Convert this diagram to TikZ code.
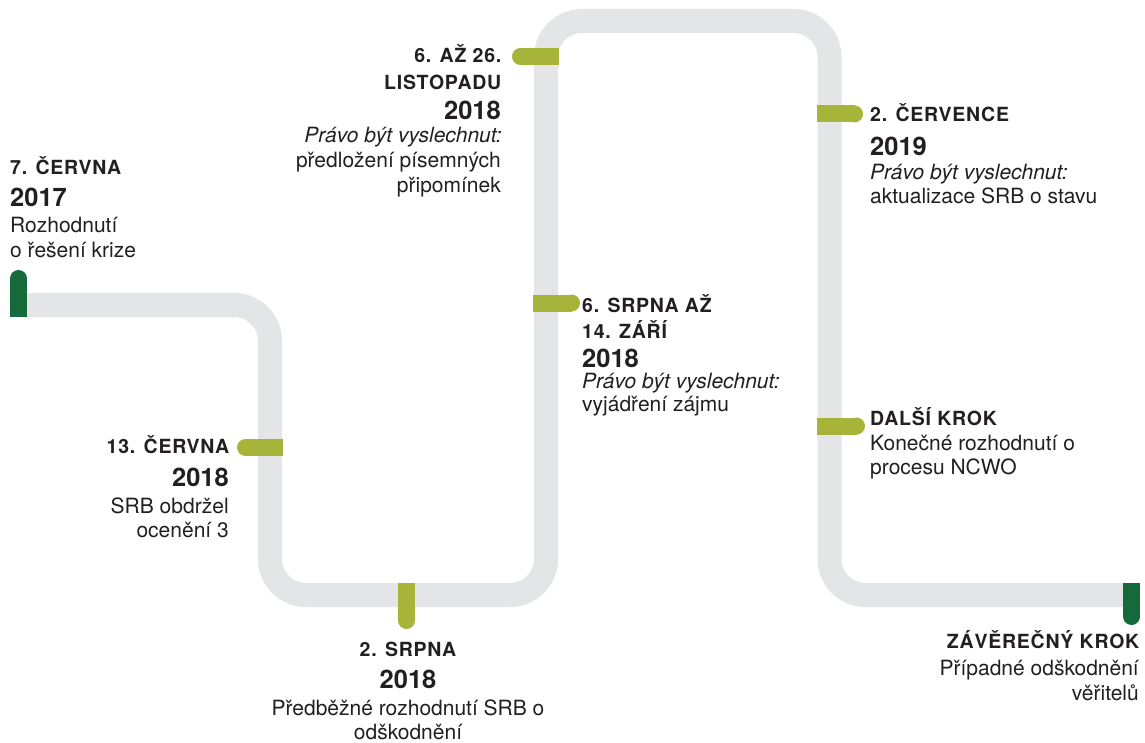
\documentclass[tikz,border=0pt]{standalone}
\usepackage{fontspec}
\setmainfont{TeX Gyre Heros}
\newfontfamily\hfont[LetterSpace=4]{TeX Gyre Heros}
\definecolor{pathgray}{HTML}{E4E5E6}
\definecolor{olivec}{HTML}{A6B43A}
\definecolor{darkg}{HTML}{15693A}
\definecolor{txt}{HTML}{231F20}
\tikzset{
  hd/.style={font=\hfont\bfseries\fontsize{19.5}{22}\selectfont, inner sep=0pt, text=txt},
  yr/.style={font=\bfseries\fontsize{25.5}{28}\selectfont, inner sep=0pt, text=txt},
  bd/.style={font=\fontsize{21}{24}\selectfont, inner sep=0pt, text=txt},
  it/.style={font=\itshape\fontsize{21}{24}\selectfont, inner sep=0pt, text=txt},
  road/.style={draw=pathgray, line width=24pt, rounded corners=36pt},
}
\begin{document}
\begin{tikzpicture}[x=1pt,y=-1pt]
\useasboundingbox (0,0) rectangle (1145,743);
\fill[white] (0,0) rectangle (1145,743);
% road
\draw[road] (20,305) -- (270,305) -- (270,595) -- (546,595) -- (546,21) -- (829.5,21) -- (829.5,595) -- (1130,595);
% start / end markers (dark green)
\fill[darkg] (10,278.5) rectangle (27,317);
\fill[darkg] (18.5,278.5) circle[radius=8.5];
\fill[darkg] (1123,583) rectangle (1140,616.5);
\fill[darkg] (1131.5,616.5) circle[radius=8.5];
% olive ticks
\fill[olivec] (245.5,439) rectangle (283,456);
\fill[olivec] (245.5,447.5) circle[radius=8.5];
\fill[olivec] (398,583) rectangle (415,620.5);
\fill[olivec] (406.5,620.5) circle[radius=8.5];
\fill[olivec] (533,294.5) rectangle (571.5,311.5);
\fill[olivec] (571.5,303) circle[radius=8.5];
\fill[olivec] (520.5,48) rectangle (559,65);
\fill[olivec] (520.5,56.5) circle[radius=8.5];
\fill[olivec] (817,105.5) rectangle (854.5,122.5);
\fill[olivec] (854.5,114) circle[radius=8.5];
\fill[olivec] (817,417.5) rectangle (856.5,434.5);
\fill[olivec] (856.5,426) circle[radius=8.5];
% block 1
\node[hd, anchor=base west] (a1) at (10,175) {7. ČERVNA};
\node[yr, anchor=base west] (a2) at (10,207) {2017};
\node[bd, anchor=base west] (a3) at (10,233) {Rozhodnutí};
\node[bd, anchor=base west] (a4) at (10,258) {o řešení krize};
% block 2
\node[hd, anchor=base east] (b1) at (229.5,453) {13. ČERVNA};
\node[yr, anchor=base east] (b2) at (229,486) {2018};
\node[bd, anchor=base east] (b3) at (229,513) {SRB obdržel};
\node[bd, anchor=base east] (b4) at (229,537) {ocenění 3};
% block 3
\node[hd, anchor=base] (c1) at (408,656) {2. SRPNA};
\node[yr, anchor=base] (c2) at (408,688) {2018};
\node[bd, anchor=base] (c3) at (408,715) {Předběžné rozhodnutí SRB o};
\node[bd, anchor=base] (c4) at (408,739) {odškodnění};
% block 4
\node[hd, anchor=base east] (d1) at (501.5,63) {6. AŽ 26.};
\node[hd, anchor=base east] (d2) at (501.5,90) {LISTOPADU};
\node[yr, anchor=base east] (d3) at (501,120) {2018};
\node[it, anchor=base east] (d4) at (502,143) {Právo být vyslechnut:};
\node[bd, anchor=base east] (d5) at (501,168) {předložení písemných};
\node[bd, anchor=base east] (d6) at (501,193) {připomínek};
% block 5
\node[hd, anchor=base west] (e1) at (582,312.5) {6. SRPNA AŽ};
\node[hd, anchor=base west] (e2) at (582,338) {14. ZÁŘÍ};
\node[yr, anchor=base west] (e3) at (582,367.5) {2018};
\node[it, anchor=base west] (e4) at (582,388) {Právo být vyslechnut:};
\node[bd, anchor=base west] (e5) at (582,411) {vyjádření zájmu};
% block 6
\node[hd, anchor=base west] (f1) at (870,122) {2. ČERVENCE};
\node[yr, anchor=base west] (f2) at (870,156) {2019};
\node[it, anchor=base west] (f3) at (870,180) {Právo být vyslechnut:};
\node[bd, anchor=base west] (f4) at (870,204) {aktualizace SRB o stavu};
% block 7
\node[hd, anchor=base west] (g1) at (870,425) {DALŠÍ KROK};
\node[bd, anchor=base west] (g2) at (870,450) {Konečné rozhodnutí o};
\node[bd, anchor=base west] (g3) at (870,474) {procesu NCWO};
% block 8
\node[hd, anchor=base east] (k1) at (1139.5,648) {ZÁVĚREČNÝ KROK};
\node[bd, anchor=base east] (k2) at (1139,675) {Případné odškodnění};
\node[bd, anchor=base east] (k3) at (1139,700) {věřitelů};
\end{tikzpicture}
\end{document}
